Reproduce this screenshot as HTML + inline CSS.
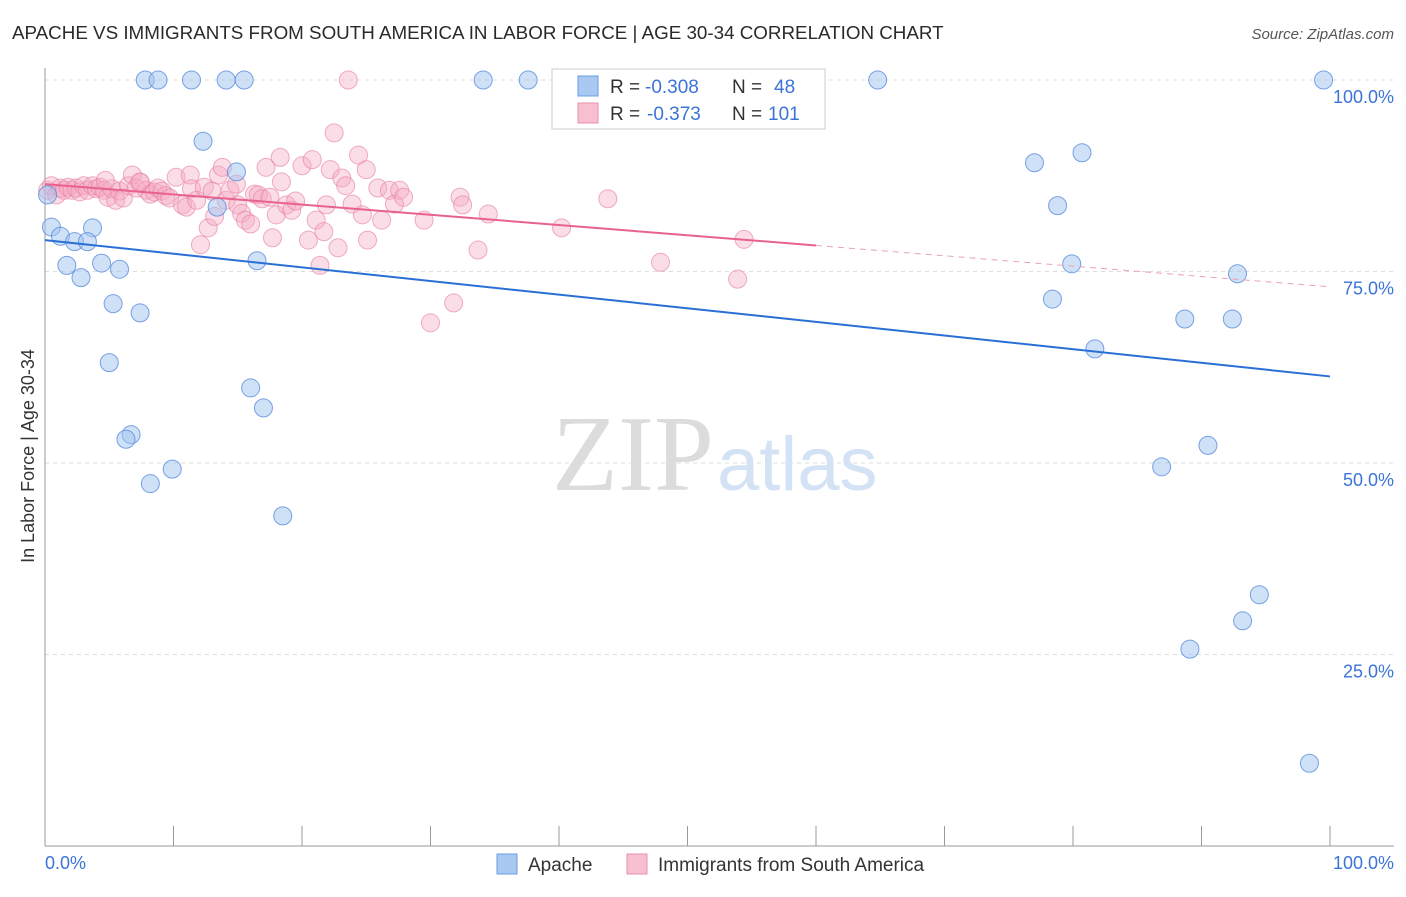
<!DOCTYPE html>
<html><head><meta charset="utf-8"><style>
body{margin:0;background:#fff;font-family:"Liberation Sans",sans-serif}
</style></head><body>
<svg id="chart" width="1406" height="892" xmlns="http://www.w3.org/2000/svg">
<text x="12" y="39" font-size="18.8" fill="#2a2a2a">APACHE VS IMMIGRANTS FROM SOUTH AMERICA IN LABOR FORCE | AGE 30-34 CORRELATION CHART</text>
<text x="1394" y="39" font-size="15" fill="#555" font-style="italic" text-anchor="end">Source: ZipAtlas.com</text>
<g id="grid"></g>
<line x1="45" y1="68" x2="45" y2="846" stroke="#999"/>
<line x1="45" y1="846" x2="1394" y2="846" stroke="#999"/>
<g id="xticks"></g>
<text x="552" y="490" font-size="108" fill="#dcdcdc" font-family="Liberation Serif,serif">ZIP</text>
<text x="717" y="490" font-size="76" fill="#d3e2f4">atlas</text>
<g id="pts"></g>
<g id="lines"></g>
<text x="34" y="456" font-size="18" fill="#333" transform="rotate(-90 34 456)" text-anchor="middle">In Labor Force | Age 30-34</text>
<text x="45" y="869" font-size="18" fill="#3b74d8">0.0%</text>
<text x="1394" y="869" font-size="18" fill="#3b74d8" text-anchor="end">100.0%</text>
<g>
<rect x="552" y="69" width="273" height="60" fill="#fff" stroke="#ccc"/>
<rect x="578" y="76" width="20" height="20" fill="#a9c9f3" stroke="#6a9be0"/>
<rect x="578" y="103" width="20" height="20" fill="#f8bfd0" stroke="#e890aa"/>
<text x="610" y="93" font-size="19" fill="#333">R =</text>
<text x="645" y="93" font-size="19" fill="#3b74d8">-0.308</text>
<text x="732" y="93" font-size="19" fill="#333">N =</text>
<text x="774" y="93" font-size="19" fill="#3b74d8">48</text>
<text x="610" y="120" font-size="19" fill="#333">R =</text>
<text x="647" y="120" font-size="19" fill="#3b74d8">-0.373</text>
<text x="732" y="120" font-size="19" fill="#333">N =</text>
<text x="768" y="120" font-size="19" fill="#3b74d8">101</text>
</g>
<g>
<rect x="497" y="854" width="20" height="20" fill="#a9c9f3" stroke="#6a9be0"/>
<text x="528" y="871" font-size="19" fill="#333">Apache</text>
<rect x="627" y="854" width="20" height="20" fill="#f8bfd0" stroke="#e890aa"/>
<text x="658" y="871" font-size="19" fill="#333">Immigrants from South America</text>
</g>
</svg>
<script>
const yTicks=[100,75,50,25];
const yTickLabels=["100.0%","75.0%","50.0%","25.0%"];
const xTicks=[0,10,20,30,40,50,60,70,80,90,100];
const apachePx=[[145,80],[158,80],[192,80],[226,80],[244,80],[483,80],[528,80],[878,80],[1324,80],[203,141],[237,172],[1035,163],[1082,153],[217,207],[1058,206],[52,227],[60,236],[93,228],[74,242],[88,242],[67,265],[102,263],[120,269],[81,278],[257,261],[1072,264],[1238,274],[113,304],[140,313],[1052,299],[1185,319],[1232,319],[1095,349],[109,363],[250,388],[264,408],[131,435],[126,439],[172,469],[151,484],[1162,467],[1208,445],[283,516],[1259,595],[1243,621],[1190,649],[1310,763],[48,195]];
const immPx=[[48,190],[52,186],[56,195],[60,188],[64,190],[68,187],[72,190],[76,188],[80,192],[84,186],[88,190],[92,186],[96,189],[100,187],[104,190],[108,197],[112,189],[116,200],[120,191],[124,198],[128,186],[132,175],[136,188],[140,183],[146,190],[150,194],[154,192],[158,188],[162,191],[166,196],[170,198],[176,177],[182,205],[186,207],[190,175],[192,189],[196,200],[200,245],[204,187],[208,228],[212,191],[214,216],[218,175],[222,167],[226,200],[230,190],[236,184],[238,205],[242,213],[246,220],[250,224],[254,194],[258,195],[262,199],[266,167],[270,197],[272,238],[276,215],[280,157],[282,182],[286,205],[292,210],[296,201],[302,166],[308,240],[312,160],[316,220],[320,265],[324,232],[326,205],[330,170],[334,133],[338,248],[342,178],[346,186],[352,204],[358,155],[362,215],[366,170],[368,240],[378,188],[382,220],[390,190],[394,204],[400,190],[404,197],[424,220],[430,323],[454,303],[460,197],[462,205],[478,250],[488,214],[562,228],[608,199],[660,262],[738,279],[744,239],[348,80],[105,180],[140,182]];
const apacheX=apachePx.map(p=>+((p[0]-45)/12.85).toFixed(1));
const apacheY=apachePx.map(p=>+((846-p[1])/7.66).toFixed(1));
const immX=immPx.map(p=>+((p[0]-45)/12.85).toFixed(1));
const immY=immPx.map(p=>+((846-p[1])/7.66).toFixed(1));
const apacheTrend=[[0,79.1],[100,61.3]];
const immTrendSolid=[[0,86.4],[60,78.4]];
const immTrendDash=[[60,78.4],[100,73.0]];

const sx=v=>45+v*12.85, sy=v=>846-v*7.66;
const NS="http://www.w3.org/2000/svg";
function mk(t,a,p){const e=document.createElementNS(NS,t);for(const k in a)e.setAttribute(k,a[k]);p.appendChild(e);return e;}
const grid=document.getElementById('grid');
yTicks.forEach((v,i)=>{
 const l=mk('line',{x1:45,x2:1394,y1:sy(v),y2:sy(v),stroke:'#ddd','stroke-dasharray':'4,4'},grid);
 
 
 const t=mk('text',{x:1394,y:sy(v)+23,'font-size':18,fill:'#3b74d8','text-anchor':'end'},grid);
 t.textContent=yTickLabels[i];
 
 
});
const xt=document.getElementById('xticks');
xTicks.forEach(v=>{
 const l=mk('line',{x1:sx(v),x2:sx(v),y1:826,y2:846,stroke:'#999'},xt);
 
 
});
const pts=document.getElementById('pts');
immX.forEach((x,i)=>{
 const c=mk('circle',{cx:sx(x),cy:sy(immY[i]),r:9,fill:'rgba(245,170,195,0.4)',stroke:'rgba(230,130,165,0.65)','stroke-width':1},pts);
 
 
});
apacheX.forEach((x,i)=>{
 const c=mk('circle',{cx:sx(x),cy:sy(apacheY[i]),r:9,fill:'rgba(160,195,240,0.5)',stroke:'rgba(90,140,220,0.8)','stroke-width':1},pts);
 
 
});
const ln=document.getElementById('lines');
function line(a,col,w,dash,name){
 const l=mk('line',{x1:sx(a[0][0]),y1:sy(a[0][1]),x2:sx(a[1][0]),y2:sy(a[1][1]),stroke:col,'stroke-width':w},ln);
 if(dash)l.setAttribute('stroke-dasharray',dash);
 
 
}
line(apacheTrend,'#2a6fd6',2,null,'apache-trend-line');
line(immTrendSolid,'#e8628e',2,null,'immigrants-trend-line');
line(immTrendDash,'#eaa0b8',1,'6,5','immigrants-trend-extension');
</script>
</body></html>
